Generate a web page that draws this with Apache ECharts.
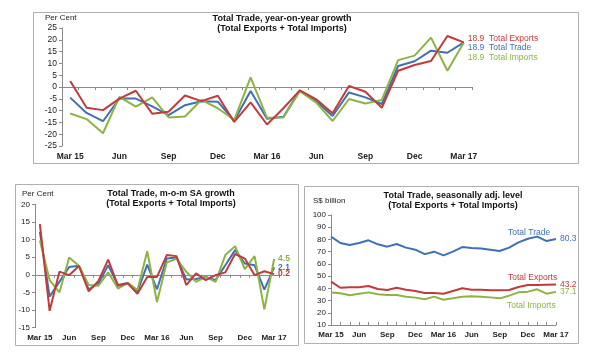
<!DOCTYPE html>
<html><head><meta charset="utf-8">
<script src="https://cdn.jsdelivr.net/npm/echarts@6/dist/echarts.min.js"></script>
<style>html,body{margin:0;padding:0;background:#fff}#c{width:600px;height:360px}</style>
</head><body><div id="c"></div>
<script>
const months = ["Mar 15","Apr","May","Jun","Jul","Aug","Sep","Oct","Nov","Dec","Jan 16","Feb","Mar 16","Apr","May","Jun","Jul","Aug","Sep","Oct","Nov","Dec","Jan 17","Feb","Mar 17"];

// Chart 1: year-on-year growth (%)
const yoyExports = [2.5,-8.8,-9.8,-4.9,-1.6,-11.3,-10.5,-3.6,-6,-3.7,-14.8,-6.5,-15.9,-9,-1.4,-5.2,-11.1,0.4,-2,-8.8,6.9,9.3,11,21.6,18.9];
const yoyTrade   = [-4.5,-11,-14.5,-4.9,-4.9,-8.2,-11.9,-7.7,-6,-6.2,-14.3,-1.7,-13.5,-12.6,-1.5,-6,-12.3,-2.3,-4.4,-7.2,8.9,10.9,15.4,14.5,18.9];
const yoyImports = [-11.2,-13.6,-19.6,-4.2,-8.3,-4.4,-12.9,-12.5,-5.5,-9,-14,4.1,-13,-12.9,-1.8,-6.6,-14.4,-5.1,-7,-5.5,11.4,13.3,20.9,6.9,18.9];

// Chart 2: m-o-m SA growth (%)
const momExports = [14.4,-10.2,0.9,-0.1,2.5,-4.7,-1.7,4.3,-3.1,-2.4,-5.4,-0.6,-0.6,5.6,5.3,-2.9,0.4,-1.5,-0.1,0.7,5.9,4.6,-0.1,1.0,0.2];
const momTrade   = [12.2,-6.2,-2,2.2,2.6,-4.1,-2.5,2.7,-2.9,-2.3,-4.8,2.9,-4.1,4.6,4.9,-1.3,-1.2,-0.6,-1.5,2.7,7.0,3.2,2.7,-4.2,2.1];
const momImports = [9.7,-1.5,-5,4.9,2.6,-2.9,-3.1,0.7,-3.9,-2.3,-4.3,6.7,-7.7,3.5,4.6,0.85,-2,-0.6,-2,5.6,8.1,1.6,5.3,-9.8,4.5];

// Chart 3: seasonally adjusted level (S$ billion)
const lvlTrade   = [82.3,77.1,75.5,77.1,79.3,76,74.1,76.3,73.3,71.6,68,70,67,70,73.8,73,72.5,71.6,70.5,73.3,77.6,80.6,82.3,78.7,80.3];
const lvlExports = [45.5,40.5,40.8,40.8,41.9,39.5,38.6,40.5,38.9,37.8,36.2,36.2,35.6,37.8,40,38.9,38.9,38.4,38.4,38.6,41.1,42.7,42.7,43,43.2];
const lvlImports = [36.5,35.9,34.3,35.6,36.7,35.1,34.5,34.5,33.2,32.4,31,33.2,30.7,31.8,33.2,33.5,33.2,32.6,31.8,34,36.7,37.3,39.2,35.6,37.1];

const RED = '#c23b3b', BLUE = '#3f70b5', GREEN = '#8db443';
const AX = '#8a8a8a';
const FONT = 'Liberation Sans, Arial, sans-serif';

const chart = echarts.init(document.getElementById('c'), null, {renderer:'canvas'});

function xLabelAxis(g, boundaryGap, fs){
  return {type:'category', gridIndex:g, data:months, boundaryGap:boundaryGap, position:'bottom',
    axisLine:{show:false, onZero:false}, axisTick:{show:false},
    axisLabel:{interval:2, fontSize:fs, fontFamily:FONT, color:'#222', margin:6, fontWeight:'bold'}};
}
function xZeroAxis(g, boundaryGap){
  return {type:'category', gridIndex:g, data:months, boundaryGap:boundaryGap, position:'bottom',
    axisLine:{show:true, onZero:true, lineStyle:{color:AX, width:1}},
    axisTick:{show:true, interval:0, length:3, lineStyle:{color:AX}},
    axisLabel:{show:false}};
}
function yAxis(g, min, max, interval, fs){
  return {type:'value', gridIndex:g, min:min, max:max, interval:interval,
    axisLine:{show:true, lineStyle:{color:AX}}, axisTick:{show:true, length:3, lineStyle:{color:AX}},
    splitLine:{show:false},
    axisLabel:{fontSize:fs, fontFamily:FONT, color:'#222', margin:5}};
}
function line(name, data, color, xi, yi, endLbl){
  const s = {name:name, type:'line', data:data, xAxisIndex:xi, yAxisIndex:yi, showSymbol:false, symbol:'none',
    lineStyle:{color:color, width:2}, itemStyle:{color:color}, animation:false, z:3};
  if (endLbl) s.endLabel = Object.assign({show:true, color:color, fontFamily:FONT, fontSize:8.5, distance:4}, endLbl);
  return s;
}

const option = {
  animation:false,
  backgroundColor:'#fff',
  grid:[
    {left:62, top:28, width:410, height:118},
    {left:35, top:204.3, width:244, height:123.4},
    {left:331, top:215, width:225, height:110}
  ],
  xAxis:[
    xLabelAxis(0, true, 8.5), xZeroAxis(0, true),
    xLabelAxis(1, true, 8), xZeroAxis(1, true),
    Object.assign(xLabelAxis(2, false, 8), {axisLine:{show:true, onZero:false, lineStyle:{color:AX}}, axisTick:{show:true, interval:0, length:3, inside:true, lineStyle:{color:AX}}})
  ],
  yAxis:[
    yAxis(0, -25, 25, 5, 8.5),
    yAxis(1, -15, 20, 5, 8),
    yAxis(2, 10, 100, 10, 8)
  ],
  series:[
    line('Total Trade', yoyTrade, BLUE, 0, 0, {formatter:'{c}  Total Trade', offset:[0,5]}),
    line('Total Imports', yoyImports, GREEN, 0, 0, {formatter:'{c}  Total Imports', offset:[0,15]}),
    line('Total Exports', yoyExports, RED, 0, 0, {formatter:'{c}  Total Exports', offset:[0,-4]}),
    line('Total Trade', momTrade, BLUE, 2, 1, {formatter:'{c}', fontWeight:'bold'}),
    line('Total Imports', momImports, GREEN, 2, 1, {formatter:'{c}', fontWeight:'bold'}),
    line('Total Exports', momExports, RED, 2, 1, {formatter:'{c}', fontWeight:'bold'}),
    line('Total Trade', lvlTrade, BLUE, 4, 2, {formatter:'{c}'}),
    line('Total Exports', lvlExports, RED, 4, 2, {formatter:'{c}'}),
    line('Total Imports', lvlImports, GREEN, 4, 2, {formatter:'{c}'})
  ],
  graphic:[
    {type:'rect', shape:{x:33.5, y:12.5, width:545, height:151}, style:{fill:'none', stroke:'#b0b0b0', lineWidth:1}, z:0},
    {type:'rect', shape:{x:15.5, y:184.5, width:283, height:161}, style:{fill:'none', stroke:'#b0b0b0', lineWidth:1}, z:0},
    {type:'rect', shape:{x:304.5, y:186.5, width:274, height:157}, style:{fill:'none', stroke:'#b0b0b0', lineWidth:1}, z:0},
    {type:'text', style:{text:'Total Trade, year-on-year growth\n(Total Exports + Total Imports)', x:282, y:14, textAlign:'center', font:'bold 9px '+FONT, lineHeight:10, fill:'#111'}},
    {type:'text', style:{text:'Per Cent', x:45, y:14, font:'8px '+FONT, fill:'#222'}},
    {type:'text', style:{text:'Total Trade, m-o-m SA growth\n(Total Exports + Total Imports)', x:171, y:189, textAlign:'center', font:'bold 9px '+FONT, lineHeight:10, fill:'#111'}},
    {type:'text', style:{text:'Per Cent', x:22, y:190, font:'8px '+FONT, fill:'#222'}},
    {type:'text', style:{text:'Total Trade, seasonally adj. level\n(Total Exports + Total Imports)', x:453, y:191, textAlign:'center', font:'bold 9px '+FONT, lineHeight:10, fill:'#111'}},
    {type:'text', style:{text:'S$ billion', x:313, y:197, font:'8px '+FONT, fill:'#222'}},
    {type:'text', style:{text:'Total Trade', x:508, y:228, font:'8.5px '+FONT, fill:BLUE}},
    {type:'text', style:{text:'Total Exports', x:508, y:273, font:'8.5px '+FONT, fill:RED}},
    {type:'text', style:{text:'Total Imports', x:507, y:301, font:'8.5px '+FONT, fill:GREEN}}
  ]
};
chart.setOption(option);
</script></body></html>
